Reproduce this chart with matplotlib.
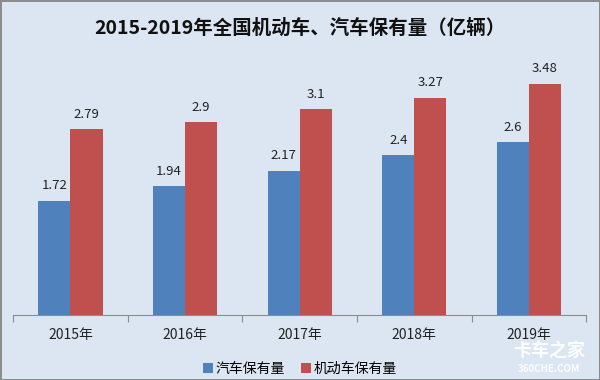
import matplotlib
matplotlib.use("Agg")
import matplotlib.pyplot as plt
import numpy as np

plt.rcParams['font.family'] = ['Noto Sans CJK SC', 'DejaVu Sans']

# data
years = ['2015年', '2016年', '2017年', '2018年', '2019年']
qiche = [1.72, 1.94, 2.17, 2.4, 2.6]
jidongche = [2.79, 2.9, 3.1, 3.27, 3.48]
labels = ['汽车保有量', '机动车保有量']

bg = '#dce6f2'
blue = '#4f81bd'
red = '#c0504d'

fig = plt.figure(figsize=(6, 3.8), dpi=100)
fig.patch.set_facecolor(bg)
fig.patch.set_edgecolor('#8c8c8c')
fig.patch.set_linewidth(2)

ax = fig.add_axes([0.022, 0.171, 0.955, 0.70])
ax.set_facecolor(bg)

x = np.arange(len(years))
w = 0.28
b1 = ax.bar(x - w / 2, qiche, w, color=blue, label=labels[0])
b2 = ax.bar(x + w / 2, jidongche, w, color=red, label=labels[1])

for bars, vals in ((b1, qiche), (b2, jidongche)):
    for r, v in zip(bars, vals):
        ax.annotate(f'{v:g}', (r.get_x() + r.get_width() / 2, v),
                    xytext=(0, 6), textcoords='offset points',
                    ha='center', va='bottom', fontsize=9.5, color='#222222')

ax.set_xlim(-0.5, len(years) - 0.5)
ax.set_ylim(0, 4)
ax.set_yticks([])
for s in ['top', 'right', 'left']:
    ax.spines[s].set_visible(False)
ax.spines['bottom'].set_color('#8c8c8c')

ax.set_xticks(np.arange(len(years) + 1) - 0.5, minor=False)
ax.set_xticklabels([])
ax.tick_params(axis='x', length=5, color='#8c8c8c')
for i, y in enumerate(years):
    ax.text(i, -0.2, y, ha='center', va='top', fontsize=10,
            transform=ax.transData, color='#222222')

fig.text(0.5, 0.925, '2015-2019年全国机动车、汽车保有量（亿辆）',
         ha='center', va='center', fontsize=14, fontweight='bold', color='#111111')

fig.legend(handles=[b1, b2], labels=labels, loc='center', bbox_to_anchor=(0.5, 0.03),
           ncol=2, frameon=False, fontsize=10, handlelength=0.7, handleheight=0.7,
           handletextpad=0.2, columnspacing=1.2)

# watermark
fig.text(0.915, 0.075, '卡车之家', ha='center', va='center', fontsize=13,
         fontweight='bold', color='white', alpha=0.9)
fig.text(0.915, 0.028, '360CHE.COM', ha='center', va='center', fontsize=7,
         fontweight='bold', color='white', alpha=0.9)

fig.savefig('out.png', dpi=100, facecolor=fig.get_facecolor(), edgecolor=fig.get_edgecolor())
